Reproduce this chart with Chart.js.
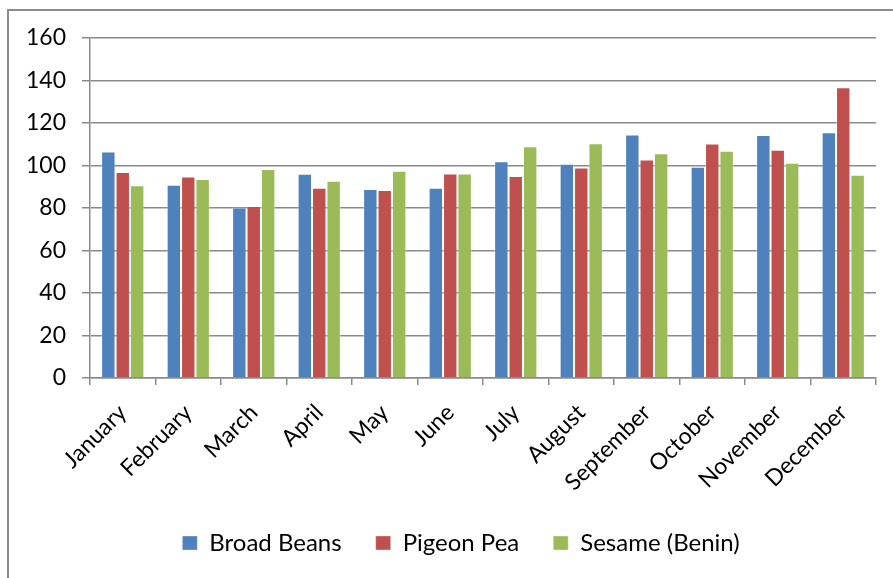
<!DOCTYPE html>
<html>
<head>
<meta charset="utf-8">
<script src="https://cdn.jsdelivr.net/npm/chart.js@4.4.0/dist/chart.umd.min.js"></script>
<style>
  html, body { margin: 0; padding: 0; background: #ffffff; }
  #wrap { width: 893px; height: 578px; position: relative; }
</style>
</head>
<body>
<div id="wrap"><canvas id="chart" width="893" height="578"></canvas></div>
<script>
// Monthly index values per commodity
const months = ['January', 'February', 'March', 'April', 'May', 'June',
                'July', 'August', 'September', 'October', 'November', 'December'];
const broadBeans  = [106.6, 91.0, 80.2, 96.1, 89.0, 89.5, 102.0, 100.8, 114.6, 99.4, 114.3, 115.6];
const pigeonPea   = [97.0, 94.8, 81.0, 89.5, 88.5, 96.2, 95.1, 99.1, 102.8, 110.4, 107.4, 136.8];
const sesameBenin = [90.7, 93.7, 98.4, 92.8, 97.5, 96.2, 109.1, 110.5, 105.8, 106.9, 101.3, 95.6];
const yMin = 0, yMax = 160, yStep = 20;

const FONT = 'Lato, "Liberation Sans", sans-serif';
const GRID = '#8a8a8a';

// Grey frame around the whole chart (its right and bottom edges run off the canvas)
const framePlugin = {
  id: 'frame',
  beforeDraw(chart) {
    const ctx = chart.ctx;
    ctx.save();
    ctx.fillStyle = '#ffffff';
    ctx.fillRect(0, 0, chart.width, chart.height);
    ctx.strokeStyle = '#8c8c8c';
    ctx.lineWidth = 2;
    ctx.strokeRect(8, 10, 1000, 1000);
    ctx.restore();
  }
};

// Nudge the legend row so it sits a little right of the canvas centre
const legendShift = {
  id: 'legendShift',
  afterLayout(chart) {
    const lg = chart.legend;
    if (lg) { lg.left += 23; lg.right += 23; }
  }
};

function series(label, data, color) {
  return {
    label, data,
    backgroundColor: color,
    borderColor: 'rgba(255,255,255,0.35)',
    borderWidth: 1,
    categoryPercentage: 0.66,
    barPercentage: 1.0
  };
}

new Chart(document.getElementById('chart'), {
  type: 'bar',
  data: {
    labels: months,
    datasets: [
      series('Broad Beans', broadBeans, '#4F81BD'),
      series('Pigeon Pea', pigeonPea, '#C0504D'),
      series('Sesame (Benin)', sesameBenin, '#9BBB59')
    ]
  },
  options: {
    responsive: false,
    animation: false,
    devicePixelRatio: 1,
    layout: { padding: { left: 0, right: 17, top: 38, bottom: 13 } },
    plugins: {
      tooltip: { enabled: false },
      legend: {
        position: 'bottom',
        labels: {
          font: { family: FONT, size: 24 },
          color: '#000000',
          boxWidth: 15,
          boxHeight: 14,
          padding: 34
        }
      }
    },
    scales: {
      x: {
        afterFit(s) { s.height = 119; },
        grid: {
          drawOnChartArea: false,
          drawTicks: true,
          tickLength: 7,
          color: GRID,
          lineWidth: 1.5,
          offset: true
        },
        border: { display: true, color: GRID, width: 1.5 },
        ticks: {
          minRotation: 45,
          maxRotation: 45,
          autoSkip: false,
          padding: 14,
          color: '#000000',
          font: { family: FONT, size: 23 }
        }
      },
      y: {
        min: yMin,
        max: yMax,
        afterFit(s) { s.width = 90; },
        grid: { color: GRID, lineWidth: 1.5, tickLength: 8 },
        border: { display: true, color: GRID, width: 1.5 },
        ticks: {
          stepSize: yStep,
          padding: 16,
          color: '#000000',
          font: { family: FONT, size: 23 }
        }
      }
    }
  },
  plugins: [framePlugin, legendShift]
});
</script>
</body>
</html>
